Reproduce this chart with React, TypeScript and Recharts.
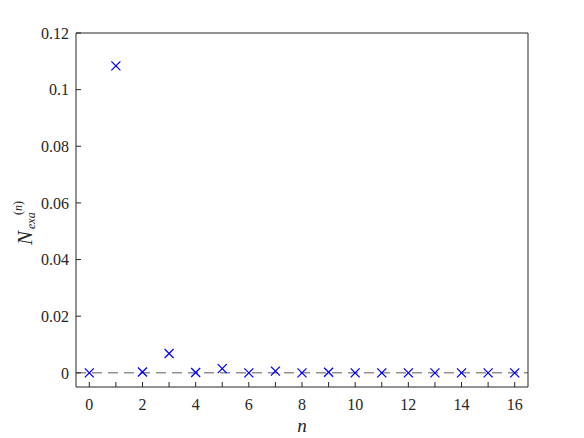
import {
  ReferenceLine,
  Scatter,
  ScatterChart,
  XAxis,
  YAxis,
} from "recharts";

const nValues = [0, 1, 2, 3, 4, 5, 6, 7, 8, 9, 10, 11, 12, 13, 14, 15, 16];
const exaValues = [
  0, 0.1084, 0.0003, 0.0068, 0.0001, 0.0015, 0, 0.0006, 0, 0.0002, 0, 0, 0, 0,
  0, 0, 0,
];
const xTicks = [0, 1, 2, 3, 4, 5, 6, 7, 8, 9, 10, 11, 12, 13, 14, 15, 16];
const yTicks = [0, 0.02, 0.04, 0.06, 0.08, 0.1, 0.12];

const data = nValues.map((n, i) => ({ n, v: exaValues[i] }));

const ink = "#262626";
const font = "Tinos, 'Liberation Serif', 'DejaVu Serif', 'Times New Roman', Times, serif";

const Cross = (props: any) => {
  const { cx, cy } = props;
  const s = 4.5;
  return (
    <g stroke="#0000ff" strokeWidth={1.3}>
      <line x1={cx - s} y1={cy - s} x2={cx + s} y2={cy + s} />
      <line x1={cx - s} y1={cy + s} x2={cx + s} y2={cy - s} />
    </g>
  );
};

const XLabel = (props: any) => {
  const vb = props.viewBox;
  return (
    <text
      x={vb.x + vb.width / 2}
      y={vb.y + 45}
      textAnchor="middle"
      fontFamily={font}
      fontStyle="italic"
      fontSize={19}
      fill={ink}
    >
      n
    </text>
  );
};

const YLabel = () => (
  <g transform="translate(32,245) rotate(-90)" fontFamily={font} fill={ink}>
    <text x={0} y={0} fontSize={21} fontStyle="italic">
      N
    </text>
    <text x={16} y={3} fontSize={12} fontStyle="italic">
      exa
    </text>
    <text x={30} y={-10} fontSize={12}>
      (<tspan fontStyle="italic">n</tspan>)
    </text>
  </g>
);

const tickStyle = { fill: ink, fontSize: 16, fontFamily: font };

export default function App() {
  return (
    <div style={{ position: "absolute", left: 0, top: 0, background: "#fff" }}>
      <ScatterChart
        width={584}
        height={438}
        margin={{ top: 32, right: 55, bottom: 11, left: 16 }}
      >
        <XAxis
          xAxisId="b"
          type="number"
          dataKey="n"
          domain={[-0.5, 16.5]}
          ticks={xTicks}
          tickFormatter={(v) => (v % 2 === 0 ? String(v) : "")}
          height={40}
          stroke={ink}
          tick={tickStyle}
          tickSize={-5}
          tickMargin={17}
          label={<XLabel />}
        />
        <XAxis
          xAxisId="t"
          orientation="top"
          type="number"
          domain={[-0.5, 16.5]}
          ticks={xTicks}
          tickFormatter={() => ""}
          height={1}
          stroke={ink}
          tickSize={-5}
        />
        <YAxis
          yAxisId="l"
          type="number"
          dataKey="v"
          domain={[-0.005, 0.12]}
          ticks={yTicks}
          tickFormatter={(v) => String(v)}
          width={60}
          stroke={ink}
          tick={tickStyle}
          tickSize={-5}
          tickMargin={12}
          label={<YLabel />}
        />
        <YAxis
          yAxisId="r"
          orientation="right"
          type="number"
          domain={[-0.005, 0.12]}
          ticks={yTicks}
          tickFormatter={() => ""}
          width={1}
          stroke={ink}
          tickSize={-5}
        />
        <ReferenceLine
          xAxisId="b"
          yAxisId="l"
          y={0}
          stroke="#5a5a5a"
          strokeDasharray="10 6"
        />
        <Scatter
          xAxisId="b"
          yAxisId="l"
          data={data}
          shape={<Cross />}
          isAnimationActive={false}
        />
      </ScatterChart>
    </div>
  );
}
